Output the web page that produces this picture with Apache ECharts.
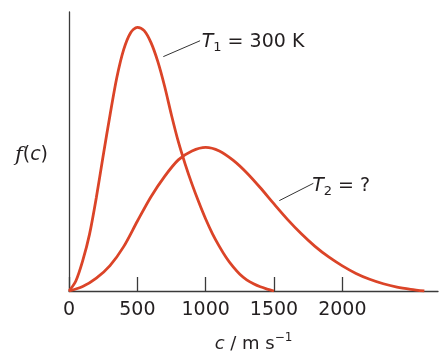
<!DOCTYPE html>
<html>
<head>
<meta charset="utf-8">
<script src="https://cdn.jsdelivr.net/npm/echarts@6/dist/echarts.min.js"></script>
<style>
  html, body { margin: 0; padding: 0; background: #fff; }
  #chart { width: 439px; height: 351px; }
</style>
</head>
<body>
<div id="chart"></div>
<script>
// speeds (m/s) and relative f(c)
const speedT1 = [0, 50, 100, 150, 200, 250, 300, 350, 400, 450, 500, 550, 600, 650, 700, 750, 800, 850, 900, 950, 1000, 1050, 1100, 1150, 1200, 1250, 1300, 1350, 1400, 1450, 1500];
const fT1 = [0, 0.036, 0.108, 0.203, 0.335, 0.485, 0.63, 0.765, 0.865, 0.925, 0.945, 0.933, 0.89, 0.822, 0.733, 0.63, 0.535, 0.455, 0.383, 0.318, 0.258, 0.205, 0.16, 0.12, 0.087, 0.06, 0.04, 0.026, 0.015, 0.007, 0];
const speedT2 = [0, 100, 200, 300, 400, 500, 600, 700, 800, 900, 1000, 1100, 1200, 1300, 1400, 1500, 1600, 1700, 1800, 1900, 2000, 2100, 2200, 2300, 2400, 2500, 2600];
const fT2 = [0, 0.016, 0.046, 0.091, 0.159, 0.25, 0.338, 0.411, 0.47, 0.502, 0.515, 0.502, 0.469, 0.424, 0.37, 0.312, 0.256, 0.205, 0.16, 0.122, 0.09, 0.063, 0.042, 0.026, 0.014, 0.006, 0];
const xTicks = [0, 500, 1000, 1500, 2000];

const red = '#db4428';
const ink = '#231f20';
const font = 'DejaVu Sans';

const chart = echarts.init(document.getElementById('chart'));

const pairs = (xs, ys) => xs.map((x, i) => [x, ys[i]]);

const pointer = (from, to) => ({
  silent: true,
  symbol: 'none',
  label: {show: false},
  lineStyle: {color: '#333', width: 1, type: 'solid', curveness: 0.3},
  data: [[{coord: from}, {coord: to}]],
});

const option = {
  animation: false,
  grid: {left: 69, right: 1, top: 12, bottom: 60, outerBoundsMode: 'none'},
  xAxis: {
    type: 'value',
    min: 0,
    max: 2700,
    name: '{i|c} / m s{sup|\u22121}',
    nameLocation: 'middle',
    nameGap: 41,
    nameTextStyle: {
      color: ink,
      fontFamily: font,
      fontSize: 18,
      lineHeight: 24,
      rich: {
        i: {fontStyle: 'italic', fontFamily: font, fontSize: 18, color: ink, lineHeight: 24},
        sup: {fontSize: 12, fontFamily: font, color: ink, verticalAlign: 'top', lineHeight: 12},
      },
    },
    axisLine: {lineStyle: {color: '#3a3a3a', width: 1.3}},
    axisTick: {show: true, inside: true, length: 14, customValues: xTicks, lineStyle: {color: '#3a3a3a', width: 1.3}},
    axisLabel: {
      customValues: xTicks,
      formatter: (v) => String(v),
      color: ink,
      fontFamily: font,
      fontSize: 19,
      margin: 10,
    },
    splitLine: {show: false},
  },
  yAxis: {
    type: 'value',
    min: 0,
    max: 1,
    name: '{f|f}{n|(}{i|c}{n|)}',
    nameLocation: 'middle',
    nameRotate: 0,
    nameGap: 21,
    nameTextStyle: {
      color: ink,
      fontFamily: font,
      fontSize: 19,
      align: 'right',
      padding: [8, 0, 0, 0],
      rich: {
        f: {fontFamily: 'DejaVu Serif', fontStyle: 'italic', fontSize: 21, color: ink},
        n: {fontFamily: font, fontSize: 19, color: ink},
        i: {fontStyle: 'italic', fontFamily: font, fontSize: 19, color: ink},
      },
    },
    axisLine: {show: true, lineStyle: {color: '#3a3a3a', width: 1.3}},
    axisTick: {show: false},
    axisLabel: {show: false},
    splitLine: {show: false},
  },
  series: [
    {
      type: 'line',
      data: pairs(speedT1, fT1),
      smooth: 0.3,
      symbol: 'none',
      lineStyle: {color: red, width: 2.8},
      markLine: pointer([690, 0.84], [959, 0.897]),
    },
    {
      type: 'line',
      data: pairs(speedT2, fT2),
      smooth: 0.3,
      symbol: 'none',
      lineStyle: {color: red, width: 2.8},
      markLine: pointer([1539, 0.324], [1788, 0.386]),
    },
  ],
};
chart.setOption(option);

// curve labels, anchored in data space
const labelAt = (c, f, text) => {
  const [x, y] = chart.convertToPixel({gridIndex: 0}, [c, f]);
  return {
    type: 'text',
    x: x,
    y: y,
    style: {
      text: text,
      fill: ink,
      font: '19px ' + font,
      verticalAlign: 'middle',
      rich: {
        t: {fontStyle: 'italic', fontFamily: font, fontSize: 19, fill: ink, lineHeight: 24},
        s: {fontFamily: font, fontSize: 13, fill: ink, verticalAlign: 'bottom', lineHeight: 13},
        n: {fontFamily: font, fontSize: 19, fill: ink, lineHeight: 24},
      },
    },
  };
};

chart.setOption({
  graphic: [
    labelAt(971, 0.892, '{t|T}{s|1}{n| = 300 K}'),
    labelAt(1779, 0.376, '{t|T}{s|2}{n| = ?}'),
  ],
});
</script>
</body>
</html>
